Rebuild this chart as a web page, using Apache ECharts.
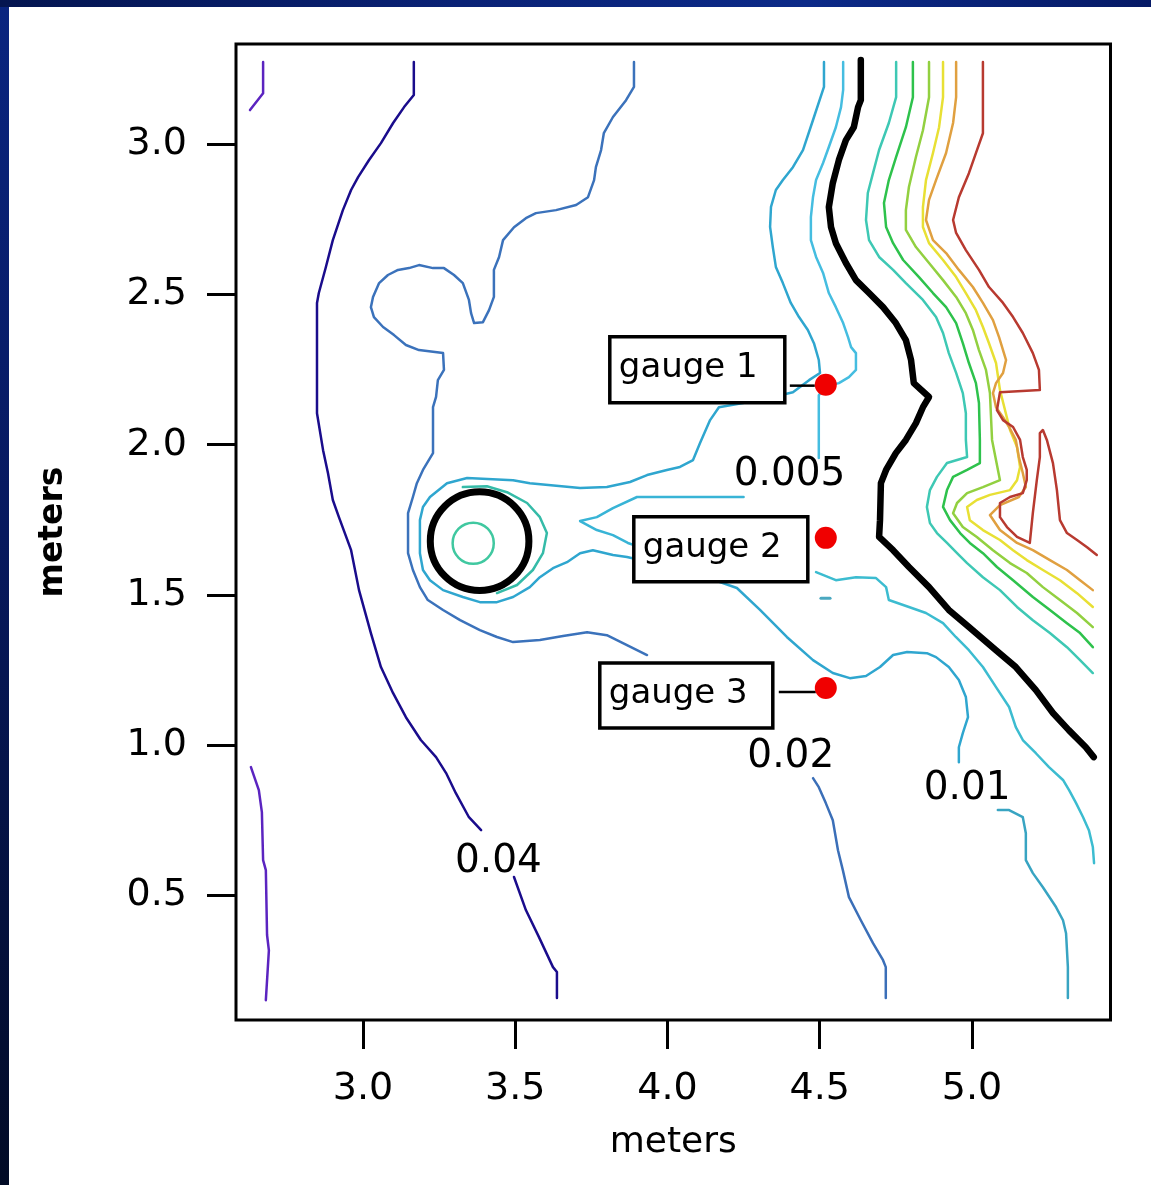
<!DOCTYPE html>
<html>
<head>
<meta charset="utf-8">
<script src="https://cdn.jsdelivr.net/npm/echarts@6/dist/echarts.min.js"></script>
<style>
  html, body { margin: 0; padding: 0; width: 1151px; height: 1185px; overflow: hidden;
    background: linear-gradient(180deg, #0a2580 0%, #07195e 45%, #020b26 100%); }
  #topband { position: absolute; left: 0; top: 0; right: 0; height: 7px;
    background: linear-gradient(90deg, #041550 0%, #0a2276 40%, #0c2a88 70%, #061a66 100%); }
  #panel { position: absolute; left: 9px; top: 7px; right: 0; bottom: 0; background: #ffffff; }
  #chart { position: absolute; left: 0; top: 0; width: 1151px; height: 1185px; }
</style>
</head>
<body>
<div id="topband"></div>
<div id="panel"></div>
<div id="chart"></div>
<script>
// ---- axis ticks (meters) ----
const xTicks = [3.0, 3.5, 4.0, 4.5, 5.0];
const yTicks = [0.5, 1.0, 1.5, 2.0, 2.5, 3.0];

// ---- contour polylines, [x, y] in meters ----
const purpleTop = [[2.672,3.274],[2.672,3.170],[2.629,3.114]];
const purpleBottom = [[2.632,0.927],[2.658,0.850],[2.668,0.777],[2.672,0.617],[2.681,0.584],[2.685,0.368],[2.691,0.317],[2.681,0.151]];

const level004Upper = [[3.167,3.274],[3.167,3.164],[3.135,3.124],[3.099,3.071],[3.059,3.004],[3.020,2.948],[2.984,2.891],[2.961,2.848],[2.934,2.781],[2.901,2.681],[2.878,2.591],[2.855,2.505],[2.849,2.472],[2.849,2.105],[2.869,1.982],[2.885,1.906],[2.901,1.816],[2.921,1.759],[2.961,1.649],[2.987,1.516],[3.026,1.373],[3.059,1.260],[3.099,1.173],[3.141,1.093],[3.190,1.017],[3.240,0.960],[3.273,0.907],[3.305,0.840],[3.348,0.760],[3.388,0.717]];
const level004Lower = [[3.496,0.561],[3.535,0.451],[3.578,0.361],[3.624,0.261],[3.637,0.245],[3.637,0.158]];

const level002Loop = [[3.890,3.274],[3.890,3.191],[3.864,3.147],[3.821,3.091],[3.791,3.037],[3.782,2.981],[3.765,2.924],[3.759,2.881],[3.739,2.824],[3.700,2.798],[3.634,2.781],[3.568,2.771],[3.535,2.754],[3.496,2.724],[3.460,2.681],[3.447,2.625],[3.430,2.582],[3.430,2.492],[3.414,2.448],[3.394,2.408],[3.365,2.405],[3.355,2.438],[3.348,2.482],[3.328,2.538],[3.299,2.565],[3.266,2.588],[3.230,2.588],[3.184,2.598],[3.151,2.588],[3.115,2.582],[3.082,2.565],[3.053,2.538],[3.033,2.492],[3.026,2.458],[3.036,2.425],[3.066,2.392],[3.102,2.365],[3.141,2.332],[3.184,2.315],[3.263,2.305],[3.266,2.249],[3.246,2.215],[3.240,2.159],[3.230,2.125],[3.230,1.972],[3.197,1.916],[3.177,1.872],[3.164,1.826],[3.148,1.772],[3.148,1.639],[3.164,1.583],[3.187,1.526],[3.213,1.483],[3.263,1.450],[3.319,1.416],[3.384,1.383],[3.440,1.360],[3.493,1.343],[3.581,1.350],[3.657,1.363],[3.736,1.376],[3.801,1.366],[3.867,1.333],[3.933,1.300]];
const level002Lower = [[4.478,0.890],[4.497,0.860],[4.520,0.807],[4.543,0.750],[4.560,0.650],[4.576,0.584],[4.596,0.494],[4.635,0.417],[4.675,0.341],[4.708,0.284],[4.717,0.261],[4.717,0.158]];

const level001Ring = [[4.514,3.274],[4.514,3.191],[4.478,3.081],[4.445,2.981],[4.412,2.924],[4.379,2.881],[4.356,2.848],[4.340,2.792],[4.337,2.725],[4.346,2.658],[4.356,2.592],[4.379,2.538],[4.405,2.472],[4.432,2.425],[4.461,2.382],[4.481,2.338],[4.497,2.282],[4.501,2.239],[4.465,2.215],[4.412,2.175],[4.304,2.149],[4.169,2.125],[4.140,2.082],[4.107,2.006],[4.084,1.949],[4.041,1.926],[3.998,1.916],[3.933,1.899],[3.877,1.876],[3.801,1.859],[3.713,1.856],[3.548,1.872],[3.493,1.882],[3.342,1.889],[3.276,1.872],[3.220,1.826],[3.197,1.793],[3.187,1.749],[3.187,1.639],[3.197,1.583],[3.220,1.549],[3.263,1.516],[3.328,1.493],[3.384,1.476],[3.440,1.476],[3.493,1.493],[3.548,1.526],[3.581,1.559],[3.624,1.589],[3.670,1.609],[3.713,1.639],[3.755,1.649],[3.821,1.633],[3.867,1.626],[3.943,1.609],[4.107,1.566],[4.228,1.523],[4.304,1.450],[4.392,1.360],[4.478,1.283],[4.543,1.240],[4.599,1.223],[4.652,1.230],[4.698,1.260],[4.741,1.300],[4.787,1.310],[4.852,1.306],[4.882,1.293],[4.924,1.260],[4.957,1.217],[4.980,1.160],[4.987,1.093],[4.970,1.040],[4.957,0.993],[4.957,0.943]];
const level001Lower = [[5.085,0.784],[5.122,0.784],[5.167,0.760],[5.177,0.707],[5.177,0.617],[5.200,0.574],[5.233,0.527],[5.276,0.461],[5.299,0.417],[5.309,0.374],[5.315,0.261],[5.315,0.158]];

const level0005Upper = [[4.577,3.274],[4.577,3.181],[4.570,3.124],[4.553,3.057],[4.530,2.991],[4.511,2.938],[4.488,2.881],[4.478,2.825],[4.471,2.758],[4.471,2.681],[4.488,2.625],[4.511,2.572],[4.530,2.505],[4.553,2.458],[4.577,2.405],[4.593,2.358],[4.603,2.325],[4.619,2.305],[4.619,2.249],[4.596,2.225],[4.563,2.205],[4.521,2.195],[4.497,2.165],[4.497,1.992],[4.497,1.956]];
const level0005Lower = [[4.488,1.576],[4.553,1.549],[4.619,1.559],[4.685,1.556],[4.718,1.526],[4.727,1.483],[4.793,1.460],[4.849,1.440],[4.905,1.406],[4.947,1.360],[4.990,1.316],[5.036,1.260],[5.079,1.193],[5.122,1.127],[5.144,1.060],[5.167,1.017],[5.210,0.973],[5.253,0.927],[5.299,0.884],[5.319,0.850],[5.342,0.807],[5.365,0.760],[5.384,0.717],[5.397,0.661],[5.401,0.607]];
const level0005Dash = [[4.504,1.489],[4.534,1.489]];

const wakeTongue = [[4.250,1.826],[3.900,1.826],[3.821,1.789],[3.768,1.759],[3.713,1.746],[3.768,1.716],[3.821,1.699],[3.870,1.673],[3.910,1.659]];
const cylinderArc = [[3.328,1.859],[3.407,1.862],[3.473,1.842],[3.539,1.806],[3.581,1.759],[3.604,1.706],[3.591,1.639],[3.558,1.583],[3.506,1.533],[3.440,1.506]];

const thickFront = [[4.635,3.281],[4.635,3.147],[4.626,3.124],[4.612,3.057],[4.586,3.014],[4.563,2.948],[4.543,2.871],[4.530,2.791],[4.537,2.725],[4.553,2.671],[4.586,2.605],[4.619,2.548],[4.662,2.505],[4.708,2.458],[4.750,2.405],[4.783,2.348],[4.800,2.282],[4.809,2.205],[4.859,2.159],[4.839,2.125],[4.816,2.072],[4.783,2.016],[4.750,1.972],[4.718,1.916],[4.701,1.872],[4.698,1.749],[4.695,1.693],[4.741,1.649],[4.793,1.593],[4.859,1.526],[4.924,1.450],[4.990,1.393],[5.079,1.316],[5.144,1.260],[5.210,1.183],[5.266,1.107],[5.318,1.050],[5.374,0.993],[5.400,0.960]];

const band1 = [[4.751,3.274],[4.751,3.157],[4.727,3.071],[4.695,2.981],[4.675,2.904],[4.658,2.838],[4.652,2.748],[4.662,2.681],[4.695,2.625],[4.741,2.582],[4.783,2.538],[4.839,2.482],[4.882,2.425],[4.905,2.372],[4.924,2.305],[4.948,2.239],[4.970,2.172],[4.980,2.105],[4.980,2.016],[4.984,1.959],[4.918,1.939],[4.885,1.893],[4.862,1.849],[4.852,1.793],[4.862,1.739],[4.885,1.706],[4.918,1.673],[4.951,1.639],[4.984,1.606],[5.036,1.559],[5.092,1.516],[5.148,1.460],[5.200,1.416],[5.256,1.373],[5.312,1.326],[5.355,1.283],[5.397,1.240]];
const band2 = [[4.806,3.274],[4.806,3.157],[4.783,3.057],[4.751,2.958],[4.727,2.881],[4.711,2.805],[4.718,2.725],[4.741,2.671],[4.774,2.615],[4.826,2.558],[4.872,2.505],[4.915,2.458],[4.948,2.405],[4.970,2.338],[4.990,2.272],[5.013,2.205],[5.023,2.139],[5.026,2.016],[5.026,1.939],[4.984,1.916],[4.938,1.893],[4.918,1.849],[4.905,1.793],[4.928,1.749],[4.961,1.706],[4.993,1.673],[5.036,1.639],[5.082,1.593],[5.135,1.549],[5.200,1.493],[5.256,1.450],[5.312,1.406],[5.355,1.373],[5.397,1.326]];
const band3 = [[4.859,3.274],[4.859,3.157],[4.839,3.047],[4.816,2.958],[4.793,2.858],[4.783,2.781],[4.783,2.715],[4.816,2.658],[4.859,2.605],[4.905,2.548],[4.948,2.492],[4.980,2.438],[5.003,2.382],[5.023,2.315],[5.046,2.249],[5.059,2.172],[5.066,2.016],[5.092,1.882],[5.036,1.859],[4.984,1.839],[4.951,1.806],[4.938,1.772],[4.970,1.726],[5.016,1.693],[5.069,1.649],[5.125,1.606],[5.180,1.573],[5.233,1.526],[5.289,1.483],[5.345,1.440],[5.397,1.393]];
const band4 = [[4.905,3.274],[4.905,3.157],[4.892,3.057],[4.872,2.971],[4.849,2.881],[4.839,2.791],[4.839,2.725],[4.859,2.671],[4.905,2.615],[4.948,2.558],[4.980,2.505],[5.013,2.448],[5.036,2.392],[5.056,2.338],[5.079,2.272],[5.092,2.182],[5.125,2.049],[5.148,1.992],[5.158,1.926],[5.148,1.882],[5.125,1.849],[5.059,1.833],[5.016,1.816],[4.984,1.793],[4.993,1.749],[5.036,1.716],[5.092,1.683],[5.135,1.649],[5.180,1.616],[5.233,1.583],[5.289,1.549],[5.345,1.506],[5.397,1.460]];
const band5 = [[4.948,3.274],[4.948,3.157],[4.938,3.071],[4.915,2.971],[4.882,2.881],[4.859,2.815],[4.849,2.748],[4.872,2.681],[4.915,2.638],[4.957,2.582],[5.003,2.525],[5.036,2.472],[5.069,2.415],[5.089,2.358],[5.112,2.282],[5.102,2.239],[5.079,2.205],[5.069,2.172],[5.079,2.125],[5.102,2.092],[5.122,2.059],[5.144,2.016],[5.154,1.959],[5.167,1.906],[5.177,1.859],[5.154,1.826],[5.092,1.799],[5.059,1.766],[5.092,1.716],[5.148,1.673],[5.200,1.649],[5.256,1.616],[5.312,1.583],[5.355,1.549],[5.397,1.516]];
const band6 = [[5.036,3.274],[5.036,3.037],[5.013,2.971],[4.990,2.904],[4.957,2.824],[4.938,2.748],[4.948,2.705],[4.980,2.648],[5.023,2.582],[5.056,2.525],[5.102,2.472],[5.135,2.425],[5.167,2.372],[5.200,2.305],[5.220,2.249],[5.223,2.182],[5.092,2.175],[5.082,2.115],[5.102,2.082],[5.135,2.059],[5.158,2.016],[5.167,1.959],[5.180,1.916],[5.180,1.882],[5.167,1.839],[5.125,1.826],[5.092,1.806],[5.092,1.759],[5.115,1.726],[5.148,1.693],[5.190,1.673],[5.200,1.773],[5.213,1.882],[5.223,1.959],[5.223,2.039],[5.233,2.049],[5.246,2.016],[5.266,1.939],[5.279,1.849],[5.289,1.749],[5.312,1.706],[5.345,1.683],[5.378,1.659],[5.410,1.633]];

// cylinder contours: [center x, center y, radius] in meters
const cylinderRings = [[3.383, 1.679, 0.163], [3.362, 1.672, 0.068]];

// contour level labels
const levelText = ['0.04', '0.02', '0.01', '0.005'];
const levelX = [3.445, 4.405, 4.984, 4.401];
const levelY = [0.611, 0.960, 0.853, 1.901];

// wave gauges
const gaugeNames = ['gauge 1', 'gauge 2', 'gauge 3'];
const gaugeX = [4.52, 4.52, 4.52];
const gaugeY = [2.20, 1.69, 1.19];

// ---- drawing styles ----
const FONT = '"DejaVu Sans", "Liberation Sans", sans-serif';
const contourStyles = [
  [purpleTop, '#5b24c0', 2.5],
  [purpleBottom, '#5b24c0', 2.5],
  [level004Upper, '#1a0c8c', 2.5],
  [level004Lower, '#1a0c8c', 2.5],
  [level002Loop, '#3b72bb', 2.5],
  [level002Lower, '#3b6fb8', 2.5],
  [level001Ring, '#2fa6cf', 2.5],
  [level001Lower, '#38a4c2', 2.5],
  [level0005Upper, '#45bde0', 2.5],
  [level0005Lower, '#3cbcd0', 2.5],
  [level0005Dash, '#4aa8c0', 3],
  [wakeTongue, '#38b4d6', 2.5],
  [cylinderArc, '#35bba8', 2.5],
  [band1, '#3ec8b4', 2.5],
  [band2, '#2ec24c', 2.5],
  [band3, '#92d040', 2.5],
  [band4, '#e8e034', 2.5],
  [band5, '#e0a040', 2.5],
  [band6, '#b83a30', 2.5],
  [thickFront, '#000000', 6.5]
];
const ringStyles = [['#000000', 7], ['#40c8a0', 2.5]];
const gaugeBoxes = [
  { dx: -216, dy: -48, w: 175, h: 66, lead: [-36, -11, 1] },
  { dx: -192, dy: -21, w: 174, h: 65, lead: null },
  { dx: -226, dy: -25, w: 173, h: 65, lead: [-47, -10, 4] }
];

const chart = echarts.init(document.getElementById('chart'), null, { renderer: 'canvas' });

const series = contourStyles.map(([pts, color, width]) => ({
  type: 'line',
  data: pts,
  symbol: 'none',
  showSymbol: false,
  silent: true,
  animation: false,
  z: 2,
  lineStyle: { color: color, width: width, cap: 'round', join: 'round' }
}));

series.push({
  type: 'custom',
  silent: true,
  animation: false,
  z: 3,
  data: cylinderRings,
  encode: { x: 0, y: 1 },
  renderItem: function (params, api) {
    const c = api.coord([api.value(0), api.value(1)]);
    const s = api.size([api.value(2), api.value(2)]);
    const st = ringStyles[params.dataIndex];
    return {
      type: 'circle',
      shape: { cx: c[0], cy: c[1], r: (s[0] + s[1]) / 2 },
      style: { fill: 'none', stroke: st[0], lineWidth: st[1] }
    };
  }
});

series.push({
  type: 'scatter',
  silent: true,
  animation: false,
  z: 4,
  symbolSize: 0,
  itemStyle: { opacity: 1 },
  data: levelText.map((t, i) => ({ name: t, value: [levelX[i], levelY[i]] })),
  label: {
    show: true,
    position: 'inside',
    formatter: p => p.name,
    fontFamily: FONT,
    fontSize: 39,
    color: '#000000',
    opacity: 1,
    textBorderWidth: 0
  }
});

series.push({
  type: 'custom',
  silent: true,
  animation: false,
  z: 5,
  data: gaugeX.map((x, i) => [x, gaugeY[i]]),
  encode: { x: 0, y: 1 },
  renderItem: function (params, api) {
    const i = params.dataIndex;
    const p = api.coord([api.value(0), api.value(1)]);
    const b = gaugeBoxes[i];
    const children = [];
    if (b.lead) {
      children.push({
        type: 'line',
        shape: { x1: p[0] + b.lead[0], y1: p[1] + b.lead[2], x2: p[0] + b.lead[1], y2: p[1] + b.lead[2] },
        style: { stroke: '#000', lineWidth: 2.5 }
      });
    }
    children.push({
      type: 'rect',
      shape: { x: p[0] + b.dx, y: p[1] + b.dy, width: b.w, height: b.h },
      style: { fill: '#fff', stroke: '#000', lineWidth: 3.5 }
    });
    children.push({
      type: 'text',
      x: p[0] + b.dx + 9,
      y: p[1] + b.dy + b.h / 2 - 1,
      style: { text: gaugeNames[i], fill: '#000', font: '34px ' + FONT, align: 'left', verticalAlign: 'middle' }
    });
    children.push({
      type: 'circle',
      shape: { cx: p[0], cy: p[1], r: 11 },
      style: { fill: '#f00000' }
    });
    return { type: 'group', children: children };
  }
});

chart.setOption({
  animation: false,
  backgroundColor: 'transparent',
  grid: {
    left: 236, top: 44, width: 874.5, height: 976,
    show: true, borderColor: '#000', borderWidth: 3, backgroundColor: 'transparent'
  },
  xAxis: {
    type: 'value',
    min: 2.583, max: 5.455,
    name: 'meters',
    nameLocation: 'middle',
    nameGap: 105,
    nameTextStyle: { fontFamily: FONT, fontSize: 36, color: '#000', lineHeight: 36 },
    axisLine: { show: false },
    splitLine: { show: false },
    axisTick: { show: true, inside: false, length: 29, customValues: xTicks, lineStyle: { color: '#000', width: 3 } },
    axisLabel: {
      show: true, customValues: xTicks, margin: 50,
      formatter: v => v.toFixed(1),
      fontFamily: FONT, fontSize: 38, color: '#000', lineHeight: 38
    }
  },
  yAxis: {
    type: 'value',
    min: 0.085, max: 3.334,
    name: 'meters',
    nameLocation: 'middle',
    nameGap: 166,
    nameRotate: 90,
    nameTextStyle: { fontFamily: FONT, fontSize: 33, fontWeight: 'bold', color: '#000', lineHeight: 33 },
    axisLine: { show: false },
    splitLine: { show: false },
    axisTick: { show: true, inside: false, length: 29, customValues: yTicks, lineStyle: { color: '#000', width: 3 } },
    axisLabel: {
      show: true, customValues: yTicks, margin: 49,
      formatter: v => v.toFixed(1),
      fontFamily: FONT, fontSize: 38, color: '#000', lineHeight: 38
    }
  },
  series: series
});
</script>
</body>
</html>
